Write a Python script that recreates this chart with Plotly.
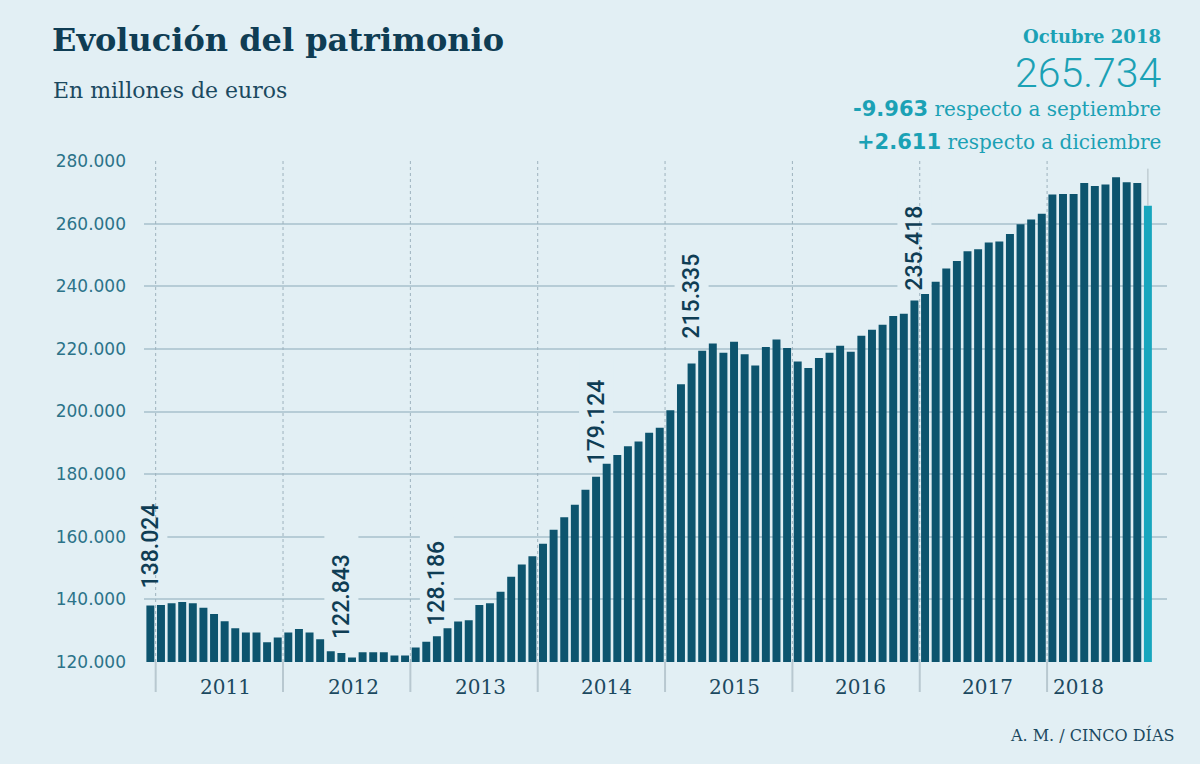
import plotly.graph_objects as go

# ---------------- data ----------------
month_names = ["ene", "feb", "mar", "abr", "may", "jun",
               "jul", "ago", "sep", "oct", "nov", "dic"]
months = ["dic 2010"] + [f"{m} {y}" for y in range(2011, 2019) for m in month_names][:94]

values_2010 = [138024]
values_2011 = [138200, 138800, 139200, 138800, 137300, 135300,
               133000, 130800, 129400, 129400, 126300, 127800]
values_2012 = [129400, 130500, 129400, 127300, 123400, 122843,
               121400, 123100, 123100, 123100, 122100, 122100]
values_2013 = [124600, 126500, 128186, 130800, 132900, 133300,
               138200, 138800, 142400, 147200, 151100, 153800]
values_2014 = [157800, 162200, 166200, 170200, 175000, 179124,
               183300, 186100, 188900, 190400, 193200, 194800]
values_2015 = [200400, 208700, 215335, 219400, 221700, 218800,
               222300, 218300, 214700, 220600, 223000, 220300]
values_2016 = [216000, 213900, 217100, 218800, 221000, 219100,
               224200, 226100, 227700, 230500, 231200, 235418]
values_2017 = [237500, 241400, 245700, 248100, 251200, 251800,
               254000, 254300, 256700, 259800, 261300, 263123]
values_2018 = [269300, 269500, 269500, 273000, 272000,
               272500, 274800, 273200, 273000, 265734]

values = (values_2010 + values_2011 + values_2012 + values_2013 +
          values_2014 + values_2015 + values_2016 + values_2017 + values_2018)

label_idx = [0, 18, 27, 42, 51, 72]          # bars carrying a value label
years = ["2011", "2012", "2013", "2014", "2015", "2016", "2017", "2018"]
y_ticks = [120000, 140000, 160000, 180000, 200000, 220000, 240000, 260000, 280000]

last_value = values[-1]
change_month = -9963
change_dec = 2611

# ---------------- style ----------------
W, H = 1200, 764
ML, MR, MT, MB = 144, 33, 161, 102
PW, PH = W - ML - MR, H - MT - MB

BG = "#e2eff4"
BAR = "#0d546e"
BAR_LAST = "#17a6bd"
TEAL = "#1ba1b5"
NAVY = "#0f3d54"
DARK = "#1b4960"
TICK = "#2c7389"
GRID = "#b6ccd6"
SEP = "#9db2bd"

SERIF = "DejaVu Serif"
SANS = "Roboto"

LABEL_GAP = [15, 12, 9, 10, 23, 8]        # px between bar top and label
YEAR_LABEL_X = [7.1, 19.1, 31.1, 43.0, 55.0, 66.9, 78.9, 87.5]
X_RANGE = [-0.6, 95.8]
Y_RANGE = [120000, 280000]
UNIT_PER_PX = (Y_RANGE[1] - Y_RANGE[0]) / PH
CAT_PER_PX = (X_RANGE[1] - X_RANGE[0]) / PW


def fmt(v):
    return f"{v:,}".replace(",", ".")


def px_x(px):
    return (px - ML) / PW


def px_y(py):
    return (H - MB - py) / PH


colors = [BAR] * (len(values) - 1) + [BAR_LAST]

fig = go.Figure()
fig.add_trace(go.Bar(
    x=months, y=values, marker=dict(color=colors, line=dict(width=0)),
    hovertemplate="%{x}: %{y:,}<extra></extra>",
))

shapes = []
annotations = []

# knockouts behind the value labels (cover gridlines only)
for i, gap in zip(label_idx, LABEL_GAP):
    v = values[i]
    shapes.append(dict(
        type="rect", layer="between", xref="x", yref="y",
        x0=i - 17 * CAT_PER_PX, x1=i + 17 * CAT_PER_PX,
        y0=v + (gap + 2) * UNIT_PER_PX, y1=v + (gap + 110) * UNIT_PER_PX,
        fillcolor=BG, line=dict(width=0),
    ))
    annotations.append(dict(
        x=months[i], y=v, xref="x", yref="y", text=fmt(v), textangle=-90,
        showarrow=False, xanchor="center", yanchor="bottom", yshift=gap,
        font=dict(family=SANS, size=23, color=NAVY, weight=500),
    ))

# top gridline interrupted under the headline block
shapes.append(dict(
    type="rect", layer="between", xref="x", yref="y",
    x0=65.5, x1=X_RANGE[1] + 1, y0=Y_RANGE[1] - 3000, y1=Y_RANGE[1] + 3000,
    fillcolor=BG, line=dict(width=0),
))

# year separators: dotted inside, solid ticks below
for k in range(len(years)):
    xs = k * 12 + 0.5
    shapes.append(dict(
        type="line", layer="between", xref="x", yref="y",
        x0=xs, x1=xs, y0=Y_RANGE[0], y1=Y_RANGE[1],
        line=dict(color=SEP, width=1, dash="dot"),
    ))
    shapes.append(dict(
        type="line", xref="x", yref="paper",
        x0=xs, x1=xs, y0=0, y1=-30 / PH,
        line=dict(color="#b8c8d0", width=2),
    ))
    annotations.append(dict(
        x=YEAR_LABEL_X[k], y=px_y(687), xref="x", yref="paper",
        text=years[k], showarrow=False, xanchor="center", yanchor="middle",
        font=dict(family=SERIF, size=20, color=DARK),
    ))

# leader line above the last bar
shapes.append(dict(
    type="line", xref="x", yref="y", layer="above",
    x0=len(values) - 1, x1=len(values) - 1,
    y0=last_value, y1=last_value + 37 * UNIT_PER_PX,
    line=dict(color="#aebcc3", width=1),
))

NUM_STYLE = "font-family:DejaVu Sans;font-weight:bold;font-size:21px"

# headline texts
annotations += [
    dict(x=px_x(51), y=px_y(40), xref="paper", yref="paper", text="<b>Evolución del patrimonio</b>",
         showarrow=False, xanchor="left", yanchor="middle", borderpad=0,
         font=dict(family=SERIF, size=32, color=NAVY)),
    dict(x=px_x(52), y=px_y(90), xref="paper", yref="paper", text="En millones de euros",
         showarrow=False, xanchor="left", yanchor="middle", borderpad=0,
         font=dict(family=SERIF, size=22, color=DARK)),
    dict(x=px_x(1162), y=px_y(36.5), xref="paper", yref="paper", text="<b>Octubre 2018</b>",
         showarrow=False, xanchor="right", yanchor="middle", borderpad=0,
         font=dict(family=SERIF, size=18, color=TEAL)),
    dict(x=px_x(1163), y=px_y(72.5), xref="paper", yref="paper", text=fmt(last_value),
         showarrow=False, xanchor="right", yanchor="middle", borderpad=0,
         font=dict(family=SANS, size=41, color=TEAL, weight=300)),
    dict(x=px_x(1162), y=px_y(109), xref="paper", yref="paper",
         text=f"<span style='{NUM_STYLE}'>{fmt(change_month)}</span> respecto a septiembre",
         showarrow=False, xanchor="right", yanchor="middle", borderpad=0,
         font=dict(family=SERIF, size=20, color=TEAL)),
    dict(x=px_x(1162), y=px_y(142), xref="paper", yref="paper",
         text=f"<span style='{NUM_STYLE}'>+{fmt(change_dec)}</span> respecto a diciembre",
         showarrow=False, xanchor="right", yanchor="middle", borderpad=0,
         font=dict(family=SERIF, size=20, color=TEAL)),
    dict(x=px_x(1176), y=px_y(735), xref="paper", yref="paper", text="A. M. / CINCO DÍAS",
         showarrow=False, xanchor="right", yanchor="middle",
         font=dict(family=SERIF, size=16, color=DARK)),
]

fig.update_layout(
    width=W, height=H,
    margin=dict(l=ML, r=MR, t=MT, b=MB),
    paper_bgcolor=BG, plot_bgcolor=BG,
    bargap=0.25, showlegend=False,
    shapes=shapes, annotations=annotations,
    xaxis=dict(type="category", range=X_RANGE, showticklabels=False,
               showgrid=False, zeroline=False, showline=False, ticks=""),
    yaxis=dict(range=Y_RANGE, tickvals=y_ticks, ticktext=[fmt(v) for v in y_ticks],
               showgrid=True, gridcolor=GRID, gridwidth=1.5, zeroline=False,
               showline=False, ticks="", ticklabelstandoff=17,
               tickfont=dict(family="DejaVu Sans", size=17, color=TICK)),
)

fig.write_html("out.html")
